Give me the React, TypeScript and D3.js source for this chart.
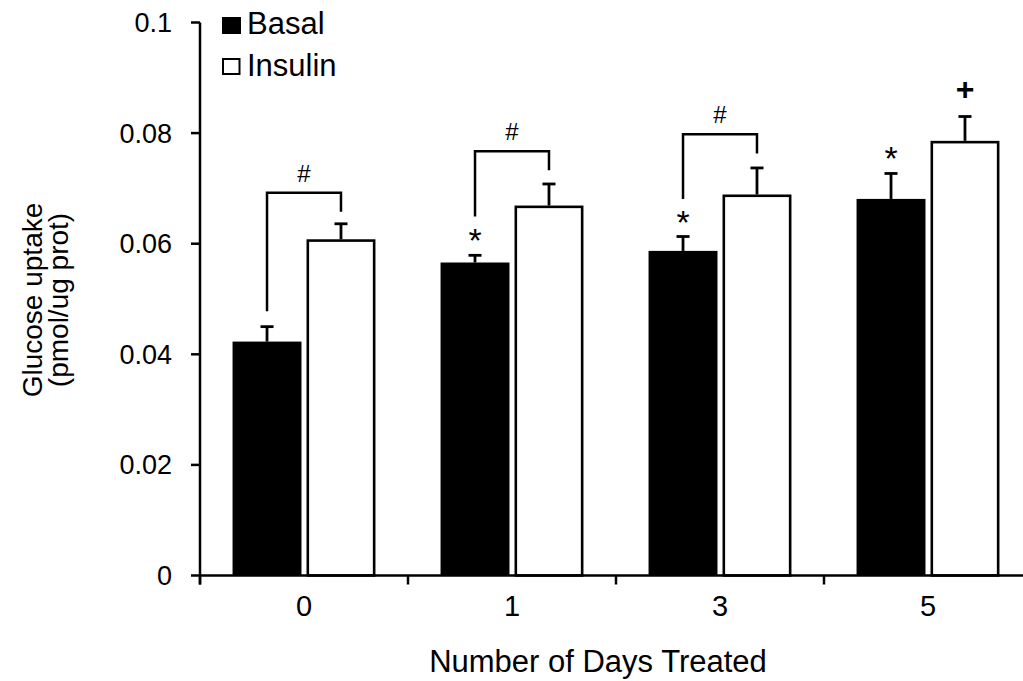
import * as d3 from "d3";

const WIDTH = 1023;
const HEIGHT = 681;

// plot area: y axis at x=200, x axis at y=575.5
const X0 = 200;
const X1 = 1032;
const Y_TOP = 22.5;
const Y_BOTTOM = 575.5;

const FONT = "'Liberation Sans', Arial, Helvetica, sans-serif";

const days = ["0", "1", "3", "5"];
const series = ["Basal", "Insulin"];

const basal = [0.0423, 0.0566, 0.0587, 0.0681];
const basalErr = [0.0027, 0.0013, 0.0026, 0.0046];
const insulin = [0.0608, 0.0669, 0.0689, 0.0786];
const insulinErr = [0.0028, 0.0039, 0.0048, 0.0044];

const yTicks = [0, 0.02, 0.04, 0.06, 0.08, 0.1];

// "#" brackets between basal and insulin
const bracketDays = ["0", "1", "3"];
const bracketTop = [0.0692, 0.0767, 0.0798];
const bracketLeft = [0.0478, 0.0649, 0.0681];
const bracketRight = [0.0658, 0.0733, 0.0763];

// significance marks
const starDays = ["1", "3", "5"];
const plusDays = ["5"];

export default function App() {
  const xScale = d3.scaleBand().domain(days).range([X0, X1]);
  const xSub = d3
    .scaleBand()
    .domain(series)
    .range([0, xScale.bandwidth()])
    .paddingInner(0.068)
    .paddingOuter(0.44);
  const yScale = d3.scaleLinear().domain([0, 0.1]).range([Y_BOTTOM, Y_TOP]);

  const bw = xSub.bandwidth();
  const center = (day: string, s: string) =>
    (xScale(day) ?? 0) + (xSub(s) ?? 0) + bw / 2;

  const capHalf = 6.5;

  const bars = days.map((d, i) => {
    const xb = (xScale(d) ?? 0) + (xSub("Basal") ?? 0);
    const xi = (xScale(d) ?? 0) + (xSub("Insulin") ?? 0);
    const cb = center(d, "Basal");
    const ci = center(d, "Insulin");
    const eb = yScale(basal[i] + basalErr[i]);
    const ei = yScale(insulin[i] + insulinErr[i]);
    return (
      <g key={d}>
        {/* error bars (upper only) */}
        <line x1={cb} x2={cb} y1={yScale(basal[i])} y2={eb} stroke="#000" strokeWidth={2.8} />
        <line x1={cb - capHalf} x2={cb + capHalf} y1={eb} y2={eb} stroke="#000" strokeWidth={2.8} />
        <line x1={ci} x2={ci} y1={yScale(insulin[i])} y2={ei} stroke="#000" strokeWidth={2.8} />
        <line x1={ci - capHalf} x2={ci + capHalf} y1={ei} y2={ei} stroke="#000" strokeWidth={2.8} />
        <rect
          x={xb}
          y={yScale(basal[i])}
          width={bw}
          height={Y_BOTTOM - yScale(basal[i])}
          fill="#000"
        />
        <rect
          x={xi + 1.3}
          y={yScale(insulin[i]) + 1.3}
          width={bw - 2.6}
          height={Y_BOTTOM - yScale(insulin[i]) - 1.3}
          fill="#fff"
          stroke="#000"
          strokeWidth={2.6}
        />
      </g>
    );
  });

  const brackets = bracketDays.map((d, i) => {
    const xl = center(d, "Basal");
    const xr = center(d, "Insulin");
    const yt = yScale(bracketTop[i]);
    return (
      <g key={d}>
        <path
          d={`M${xl},${yScale(bracketLeft[i])}V${yt}H${xr}V${yScale(bracketRight[i])}`}
          fill="none"
          stroke="#000"
          strokeWidth={2.5}
        />
        <text
          x={(xl + xr) / 2}
          y={yt - 11}
          textAnchor="middle"
          fontSize={24}
          fontFamily={FONT}
        >
          #
        </text>
      </g>
    );
  });

  const stars = starDays.map((d) => {
    const i = days.indexOf(d);
    return (
      <text
        key={d}
        x={center(d, "Basal")}
        y={yScale(basal[i] + basalErr[i]) - 3}
        textAnchor="middle"
        fontSize={34}
        fontFamily={FONT}
      >
        *
      </text>
    );
  });

  const pluses = plusDays.map((d) => {
    const i = days.indexOf(d);
    return (
      <text
        key={d}
        x={center(d, "Insulin")}
        y={yScale(insulin[i] + insulinErr[i]) - 17}
        textAnchor="middle"
        fontSize={32}
        fontWeight="bold"
        fontFamily={FONT}
      >
        +
      </text>
    );
  });

  const yAxis = yTicks.map((t) => (
    <g key={t}>
      <line x1={X0 - 9} x2={X0} y1={yScale(t)} y2={yScale(t)} stroke="#000" strokeWidth={2.5} />
      <text
        x={X0 - 28}
        y={yScale(t)}
        dy="0.35em"
        textAnchor="end"
        fontSize={27}
        fontFamily={FONT}
      >
        {t === 0 ? "0" : d3.format("~g")(t)}
      </text>
    </g>
  ));

  const xTicks = days.map((d) => (
    <line
      key={d}
      x1={xScale(d)}
      x2={xScale(d)}
      y1={Y_BOTTOM}
      y2={Y_BOTTOM + 9}
      stroke="#000"
      strokeWidth={2.5}
    />
  ));

  const xLabels = days.map((d) => (
    <text
      key={d}
      x={(xScale(d) ?? 0) + xScale.bandwidth() / 2}
      y={616}
      textAnchor="middle"
      fontSize={29}
      fontFamily={FONT}
    >
      {d}
    </text>
  ));

  return (
    <svg
      width={WIDTH}
      height={HEIGHT}
      style={{ position: "absolute", left: 0, top: 0, background: "#fff" }}
    >
      {bars}
      {brackets}
      {stars}
      {pluses}
      {/* axes */}
      <line x1={X0} x2={X0} y1={Y_TOP} y2={Y_BOTTOM + 9} stroke="#000" strokeWidth={2.5} />
      <line x1={X0} x2={X1} y1={Y_BOTTOM} y2={Y_BOTTOM} stroke="#000" strokeWidth={2.5} />
      {yAxis}
      {xTicks}
      {xLabels}
      <text x={598} y={672} textAnchor="middle" fontSize={31} fontFamily={FONT}>
        Number of Days Treated
      </text>
      <g transform="translate(0,300) rotate(-90)" fontFamily={FONT} fontSize={28}>
        <text x={0} y={42} textAnchor="middle">
          Glucose uptake
        </text>
        <text x={0} y={68} textAnchor="middle">
          (pmol/ug prot)
        </text>
      </g>
      {/* legend */}
      <g fontFamily={FONT} fontSize={31}>
        <rect x={222} y={17} width={19} height={17} fill="#000" />
        <text x={247} y={34}>
          Basal
        </text>
        <rect x={223} y={59} width={16.5} height={15} fill="#fff" stroke="#000" strokeWidth={2} />
        <text x={247} y={76}>
          Insulin
        </text>
      </g>
    </svg>
  );
}
